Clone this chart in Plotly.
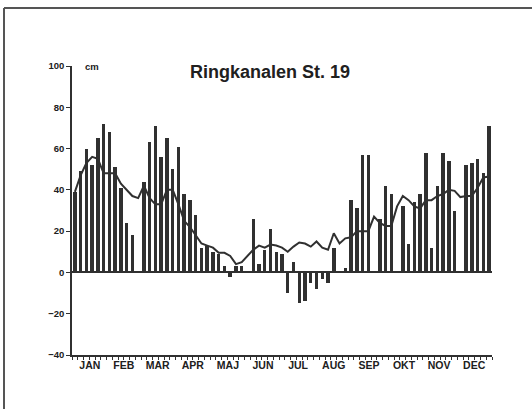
import plotly.graph_objects as go

# 5-day (pentad) values, 73 per year; None = missing
pentad = list(range(73))
bar_values = [39, 49, 60, 52, 65, 72, 68, 51, 41, 24,
              18, None, 44, 63, 71, 56, 65, 50, 61, 38,
              35, 28, 12, 13, 10, 9, 3, -2, 3, 3,
              None, 26, 4, 11, 21, 10, 9, -10, 5, -15,
              -14, -5, -8, -3, -5, 12, None, 2, 35, 31,
              57, 57, None, 26, 42, 38, None, 32, 14, 34,
              38, 58, 12, 42, 58, 54, 30, None, 52, 53,
              55, 48, 71]
mean_values = [39, 47, 53, 56, 55, 48, 48, 48, 43, 40,
               37, 36, 42, 36, 33, 33, 40, 40, 33, 25,
               22, 18, 14, 13, 12, 9.5, 9.5, 8, 4, 5,
               8, 11, 13, 12, 13.5, 13, 12, 10, 12.5, 14.5,
               14, 12.5, 15, 12, 11, 19, 14, 16.5, 17, 20,
               20, 20, 27, 24, 22.5, 22.5, 32, 37, 35, 32,
               31, 35, 35, 37, 38, 40, 39.5, 36.5, 37, 37,
               41, 46, 46.5]
months = ["JAN", "FEB", "MAR", "APR", "MAJ", "JUN",
          "JUL", "AUG", "SEP", "OKT", "NOV", "DEC"]
month_days = [31, 28, 31, 30, 31, 30, 31, 31, 30, 31, 30, 31]
y_ticks = [100, 80, 60, 40, 20, 0, -20, -40]
title_text = "Ringkanalen St. 19"
unit_text = "cm"

# month centres expressed on the pentad axis
month_centres = []
start = 0
for d in month_days:
    month_centres.append((start + d / 2) / 5 - 0.5)
    start += d

dark = "#303030"
font_family = "Liberation Sans, Arial, sans-serif"

fig = go.Figure()
fig.add_trace(go.Bar(x=pentad, y=bar_values, marker_color=dark,
                     marker_line_width=0, width=0.6, showlegend=False))
fig.add_trace(go.Scatter(x=pentad, y=mean_values, mode="lines",
                         line=dict(color=dark, width=2), showlegend=False))

fig.update_layout(
    width=532, height=409,
    margin=dict(l=72, r=40, t=66, b=54),
    paper_bgcolor="white", plot_bgcolor="white",
    font=dict(family=font_family, color="#202020"),
    bargap=0,
    xaxis=dict(
        range=[-0.5, 72.5], showgrid=False, zeroline=False,
        showline=True, linecolor=dark, linewidth=1.5,
        tickmode="array", tickvals=month_centres, ticktext=months,
        ticks="", ticklen=0,
        tickfont=dict(size=10.5, weight="bold", family=font_family),
        minor=dict(ticks="outside", tick0=-0.5, dtick=1, ticklen=3,
                   tickcolor=dark, tickwidth=1, showgrid=False),
    ),
    yaxis=dict(
        range=[-40, 100], showgrid=False,
        zeroline=True, zerolinecolor=dark, zerolinewidth=1.5,
        showline=True, linecolor=dark, linewidth=1.5,
        tickmode="array", tickvals=y_ticks,
        ticks="outside", ticklen=4, tickcolor=dark, tickwidth=1.2,
        tickfont=dict(size=9.5, weight="bold", family=font_family),
    ),
    annotations=[
        dict(text=title_text, x=0.471, y=0.979, xref="paper", yref="paper",
             xanchor="center", yanchor="middle", showarrow=False,
             font=dict(size=18, weight="bold", family=font_family, color="#202020")),
        dict(text=unit_text, x=0.026, y=0.997, xref="paper", yref="paper",
             xanchor="left", yanchor="middle", showarrow=False,
             font=dict(size=9.5, weight="bold", family=font_family, color="#202020")),
    ],
    shapes=[
        dict(type="line", xref="paper", yref="paper",
             x0=(4 - 72) / 420, x1=(4 - 72) / 420,
             y0=(355 - 8) / 289, y1=(355 - 409) / 289,
             line=dict(color="#555555", width=2)),
        dict(type="line", xref="paper", yref="paper",
             x0=(4 - 72) / 420, x1=(532 - 72) / 420,
             y0=(355 - 8) / 289, y1=(355 - 8) / 289,
             line=dict(color="#555555", width=2)),
    ],
)

fig.write_html("out.html",
               config={"displayModeBar": False},
               post_script="document.body.style.margin='0px';"
                           "document.body.style.overflow='hidden';")
